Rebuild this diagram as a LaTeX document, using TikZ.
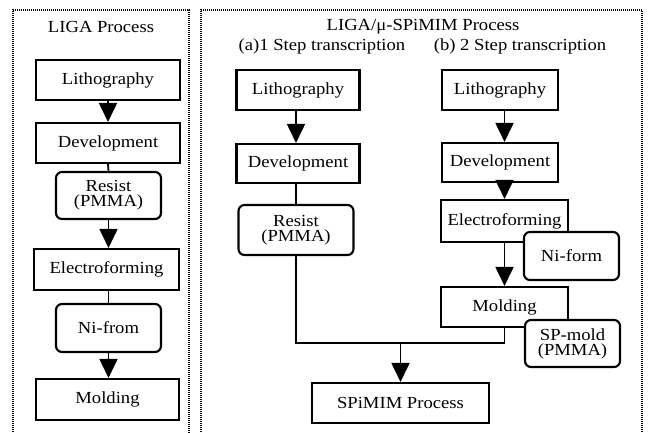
\documentclass[tikz,border=0pt]{standalone}
\usepackage{fontspec}
\setmainfont{Liberation Serif}[FakeStretch=1.1]
\usetikzlibrary{arrows.meta}
\newcommand\lbl{\fontsize{17}{15}\selectfont}
\begin{document}
\begin{tikzpicture}[x=1bp,y=-1bp,
  stepbox/.style={draw,line width=2.1bp,inner sep=0pt,font=\lbl,align=center},
  matbox/.style={stepbox,rounded corners=6bp,fill=white},
  panel/.style={line width=1.4bp,dash pattern=on 0.9bp off 1.1bp},
  flow/.style={line width=1.8bp,-{Triangle[width=18bp,length=19bp]}},
  link/.style={line width=1.8bp},
  caption/.style={font=\lbl,inner sep=0pt}]
\useasboundingbox (0,0) rectangle (648,432);

% dotted panels, open at the bottom
\draw[panel] (13,434) -- (13,10) -- (189,10) -- (189,434);
\draw[panel] (201,434) -- (201,10) -- (642,10) -- (642,434);

% LIGA process
\node[caption] (t1) at (101,27) {LIGA Process};
\node[stepbox,minimum width=144bp,minimum height=40bp] (l1) at (108,80) {Lithography};
\node[stepbox,minimum width=144bp,minimum height=40bp] (l2) at (108,143) {Development};
\node[matbox,minimum width=105bp,minimum height=47bp] (l3) at (108.5,195.5) {Resist\\(PMMA)};
\node[stepbox,minimum width=145bp,minimum height=41bp] (l4) at (106.5,269.5) {Electroforming};
\node[matbox,minimum width=105bp,minimum height=48bp] (l5) at (108.5,328) {Ni-from};
\node[stepbox,minimum width=143bp,minimum height=41bp] (l6) at (107.5,399.5) {Molding};

\draw[flow] (l1.south) -- (l2.north);
\draw[link] (l2.south) -- (l3.north);
\draw[flow] (l3.south) -- (l4.north -| l3.south);
\draw[link] (l4.south -| l5.north) -- (l5.north);
\draw[flow] (l5.south) -- (l6.north -| l5.south);

% LIGA / mu-SPiMIM process
\node[caption] (t2) at (423,27) {LIGA/μ-SPiMIM Process};
\node[caption] (ta) at (322,46) {(a)1 Step transcription};
\node[caption] (tb) at (520,46) {(b) 2 Step transcription};

% (a) one step
\node[stepbox,minimum width=123bp,minimum height=40bp] (a1) at (298,90) {Lithography};
\node[stepbox,minimum width=123bp,minimum height=39bp] (a2) at (298,163.5) {Development};
\node[matbox,minimum width=115bp,minimum height=50bp] (a3) at (296,230) {Resist\\(PMMA)};
\draw[flow] (a1.south -| a3.south) -- (a2.north -| a3.south);
\draw[link] (a2.south -| a3.north) -- (a3.north);

% (b) two steps
\node[stepbox,minimum width=116bp,minimum height=40bp] (b1) at (500,90) {Lithography};
\node[stepbox,minimum width=116bp,minimum height=39bp] (b2) at (500,162.5) {Development};
\node[stepbox,minimum width=127bp,minimum height=42bp] (b3) at (504.5,221) {Electroforming};
\node[matbox,minimum width=95bp,minimum height=48bp] (b4) at (571.5,256) {Ni-form};
\node[stepbox,minimum width=127bp,minimum height=40bp] (b5) at (504.5,307) {Molding};
\draw[flow] (b1.south -| b5.north) -- (b2.north -| b5.north);
\draw[flow] (b2.south -| b5.north) -- (b3.north -| b5.north);
\draw[flow] (b3.south -| b5.north) -- (b5.north);

% common end
\node[stepbox,minimum width=177bp,minimum height=40bp] (sp) at (400.5,403) {SPiMIM Process};
\coordinate (j) at (400.5,343);
\draw[link] (a3.south) |- (j) -| (b5.south);
\draw[flow] (j) -- (sp.north);

% mould box sits over the corner of the molding step
\node[matbox,minimum width=95bp,minimum height=47bp] (b6) at (572.5,343.5) {SP-mold\\(PMMA)};
\end{tikzpicture}
\end{document}
